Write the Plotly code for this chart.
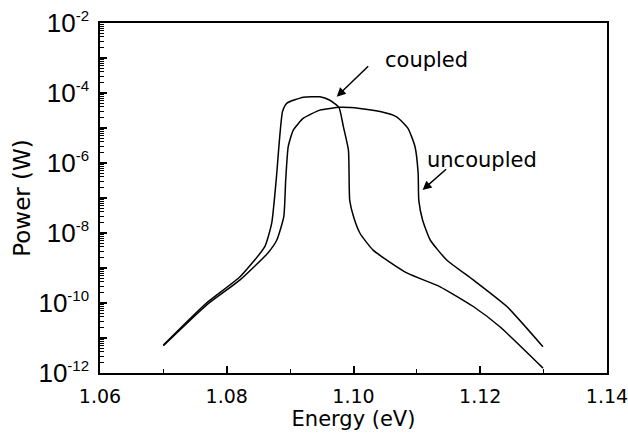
import plotly.graph_objects as go

# Data (energy in eV, power as log10 of W)
coupled_x = [1.0700, 1.0768, 1.0821, 1.0860, 1.0871, 1.0878, 1.0888, 1.0895, 1.0921, 1.0947,
             1.0962, 1.0977, 1.0984, 1.0992, 1.0994, 1.1000, 1.1010, 1.1031, 1.1084, 1.1136,
             1.1189, 1.1231, 1.1299]
coupled_log = [-11.2, -10.0, -9.25, -8.39, -7.71, -6.49, -4.53, -4.29, -4.12, -4.11,
               -4.20, -4.41, -4.96, -5.63, -7.06, -7.53, -8.00, -8.49, -9.14, -9.53,
               -10.10, -10.68, -11.86]

uncoupled_x = [1.0700, 1.0768, 1.0821, 1.0865, 1.0879, 1.0890, 1.0893, 1.0897, 1.0905, 1.0921,
               1.0947, 1.0979, 1.1010, 1.1042, 1.1068, 1.1086, 1.1097, 1.1102, 1.1103, 1.1109,
               1.1121, 1.1147, 1.1189, 1.1242, 1.1299]
uncoupled_log = [-11.22, -10.06, -9.34, -8.57, -8.20, -7.53, -6.49, -5.53, -5.06, -4.72,
                 -4.49, -4.41, -4.44, -4.53, -4.68, -5.01, -5.53, -6.29, -7.06, -7.63,
                 -8.20, -8.77, -9.34, -10.10, -11.25]

x_ticks = [1.06, 1.08, 1.10, 1.12, 1.14]
x_ticktext = ["1.06", "1.08", "1.10", "1.12", "1.14"]
x_minor = [1.07, 1.09, 1.11, 1.13]
y_exps = [-12, -11, -10, -9, -8, -7, -6, -5, -4, -3, -2]

coupled_y = [10 ** v for v in coupled_log]
uncoupled_y = [10 ** v for v in uncoupled_log]

SANS = "Liberation Sans, Arial, sans-serif"
WIDE = "DejaVu Sans, sans-serif"

y_tickvals = [10.0 ** e for e in y_exps]
y_ticktext = [("10<sup><span style='font-size:15px'>%d</span></sup>" % e) if e % 2 == 0 else ""
              for e in y_exps]
y_minor = [m * 10.0 ** e for e in range(-12, -2) for m in range(2, 10)]

fig = go.Figure()
fig.add_trace(go.Scatter(x=coupled_x, y=coupled_y, mode="lines",
                         line=dict(color="black", width=1.5, shape="spline", smoothing=0.5),
                         name="coupled"))
# drawn on the overlay axes (identical ranges) so the minor-tick axes are rendered
fig.add_trace(go.Scatter(x=uncoupled_x, y=uncoupled_y, mode="lines", xaxis="x2", yaxis="y2",
                         line=dict(color="black", width=1.5, shape="spline", smoothing=0.5),
                         name="uncoupled"))

fig.update_layout(
    width=628, height=440,
    margin=dict(l=100, r=21, t=23, b=67),
    paper_bgcolor="white", plot_bgcolor="white",
    showlegend=False,
    font=dict(family=SANS, color="black"),
    xaxis=dict(
        range=[1.06, 1.14], tickmode="array", tickvals=x_ticks, ticktext=x_ticktext,
        ticks="inside", ticklen=7, tickwidth=1.5, tickcolor="black",
        showline=True, linecolor="black", linewidth=1.5, mirror=True,
        showgrid=False, zeroline=False, ticklabelstandoff=5, ticklabeloverflow="allow",
        automargin=False,
        tickfont=dict(size=19, family=WIDE),
        title=dict(text="Energy (eV)", font=dict(size=21, family=WIDE), standoff=4),
    ),
    xaxis2=dict(
        range=[1.06, 1.14], overlaying="x", anchor="y", side="bottom", automargin=False,
        tickmode="array", tickvals=x_minor, ticks="inside", ticklen=4, tickwidth=1.2,
        tickcolor="black", showticklabels=False, showline=False, showgrid=False, zeroline=False,
    ),
    yaxis=dict(
        type="log", range=[-12, -2], tickmode="array", tickvals=y_tickvals, ticktext=y_ticktext,
        ticks="inside", ticklen=7, tickwidth=1.5, tickcolor="black",
        showline=True, linecolor="black", linewidth=1.5, mirror=True,
        showgrid=False, zeroline=False, ticklabelstandoff=4, automargin=False,
        tickfont=dict(size=26, family=SANS),
        title=dict(text="Power (W)", font=dict(size=23, family=WIDE), standoff=1),
    ),
    yaxis2=dict(
        type="log", range=[-12, -2], overlaying="y", anchor="x", side="left", automargin=False,
        tickmode="array", tickvals=y_minor, ticks="inside", ticklen=3.5, tickwidth=1,
        tickcolor="black", showticklabels=False, showline=False, showgrid=False, zeroline=False,
    ),
)

# Labels
fig.add_annotation(x=1.1115, y=-3.057, text="coupled", showarrow=False,
                   font=dict(size=21, family=WIDE, color="black"))
fig.add_annotation(x=1.1202, y=-5.914, text="uncoupled", showarrow=False,
                   font=dict(size=21, family=WIDE, color="black"))
# Arrows
fig.add_annotation(x=1.09735, y=-4.106, ax=33, ay=-32, text="", showarrow=True,
                   arrowhead=2, arrowsize=1.2, arrowwidth=1.5, arrowcolor="black")
fig.add_annotation(x=1.1109, y=-6.77, ax=25, ay=-22, text="", showarrow=True,
                   arrowhead=2, arrowsize=1.2, arrowwidth=1.5, arrowcolor="black")

fig.write_html("out.html")
